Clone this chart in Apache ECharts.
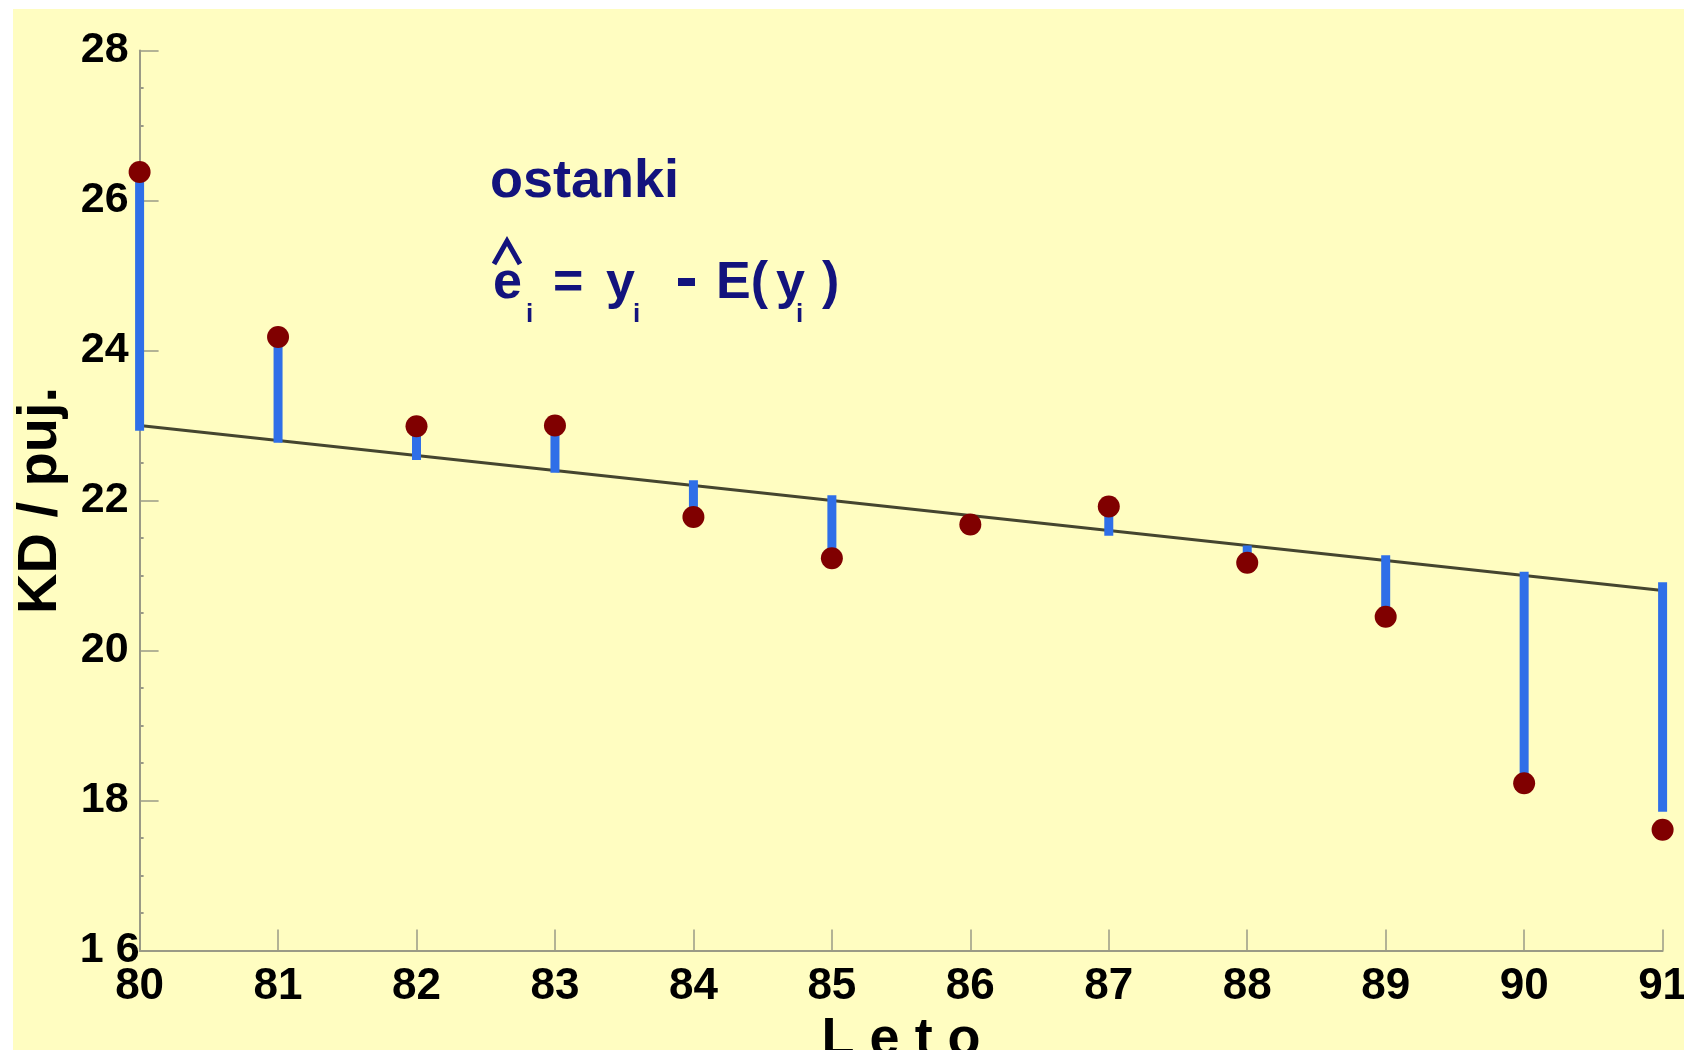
<!DOCTYPE html>
<html>

<head>
    <meta charset="utf-8">
    <title>Ostanki</title>
    <script src="https://cdn.jsdelivr.net/npm/echarts@6/dist/echarts.min.js"></script>
    <style>
        body { margin: 0; background: #ffffff; overflow: hidden; }
        #chart { position: absolute; left: 13px; top: 9px; width: 1671px; height: 1041px; background: #fffdc1; }
    </style>
</head>

<body>
    <div id="chart"></div>

    <script type="text/javascript">
        // years (Leto) and values
        var years = [80, 81, 82, 83, 84, 85, 86, 87, 88, 89, 90, 91];
        var observed = [26.38, 24.18, 22.99, 23.0, 21.78, 21.23, 21.68, 21.92, 21.17, 20.45, 18.23, 17.61];
        var fitted = [23.0, 22.8, 22.6, 22.4, 22.2, 22.0, 21.8, 21.6, 21.4, 21.2, 21.0, 20.8];
        // blue residual stems, start and end as drawn
        var stemFrom = [22.93, 22.77, 22.54, 22.37, 22.27, 22.07, 21.80, 21.53, 21.40, 21.27, 21.05, 20.91];
        var stemTo = [26.3, 24.1, 22.9, 22.87, 21.87, 21.25, 21.70, 21.86, 21.22, 20.54, 18.34, 17.85];
        var yTickLabels = { 16: '1 6', 18: '18', 20: '20', 22: '22', 24: '24', 26: '26', 28: '28' };

        var FONT = '"Liberation Sans", Arial, sans-serif';
        var NAVY = '#13137d';
        var AXIS = '#9a9a86';

        var lineData = [], stemData = [], pointData = [];
        for (var i = 0; i < years.length; i++) {
            lineData.push([years[i], fitted[i]]);
            stemData.push([years[i], stemFrom[i], stemTo[i]]);
            pointData.push([years[i], observed[i]]);
        }

        function renderStem(params, api) {
            var p1 = api.coord([api.value(0), api.value(1)]);
            var p2 = api.coord([api.value(0), api.value(2)]);
            return {
                type: 'line',
                shape: { x1: p1[0], y1: p1[1], x2: p2[0], y2: p2[1] },
                style: { stroke: '#2f6fe8', lineWidth: 9, lineCap: 'butt' }
            };
        }

        function navyText(txt, x, y, size) {
            return {
                type: 'text', x: x, y: y,
                style: { text: txt, font: 'bold ' + size + 'px ' + FONT, fill: NAVY, verticalAlign: 'middle' }
            };
        }

        var myChart = echarts.init(document.getElementById('chart'), null, { renderer: 'canvas' });

        var option = {
            animation: false,
            grid: { left: 126.6, right: 21.4, top: 41.5, bottom: 99.5, outerBoundsMode: 'none', containLabel: false },
            xAxis: {
                type: 'value', min: 80, max: 91, interval: 1,
                name: 'L e t o', nameLocation: 'middle', nameGap: 52,
                nameTextStyle: { fontFamily: FONT, fontWeight: 'bold', fontSize: 54, color: '#000' },
                axisLine: { lineStyle: { color: AXIS, width: 2 } },
                axisTick: { inside: true, length: 21, lineStyle: { color: AXIS, width: 1.5 } },
                splitLine: { show: false },
                axisLabel: { margin: 14, fontFamily: FONT, fontWeight: 'bold', fontSize: 44, color: '#000' }
            },
            yAxis: {
                type: 'value', min: 16, max: 28, interval: 2,
                name: 'KD / puj.', nameLocation: 'middle', nameGap: 52, nameRotate: 90,
                nameTextStyle: { fontFamily: FONT, fontWeight: 'bold', fontSize: 56, color: '#000' },
                axisLine: { show: true, lineStyle: { color: AXIS, width: 2 } },
                axisTick: { show: true, inside: true, length: 19, lineStyle: { color: AXIS, width: 1.5 } },
                minorTick: { show: true, splitNumber: 4, length: 4, lineStyle: { color: AXIS, width: 2 } },
                splitLine: { show: false },
                axisLabel: {
                    margin: 0,
                    formatter: function (v) {
                        var t = yTickLabels[v];
                        return v === 16 ? '{w|' + t + '}' : '{n|' + t + '}';
                    },
                    rich: {
                        n: { fontFamily: FONT, fontWeight: 'bold', fontSize: 43, color: '#000', padding: [0, 11, 0, 0] },
                        w: { fontFamily: FONT, fontWeight: 'bold', fontSize: 43, color: '#000', padding: [0, 0, 0, 0] }
                    }
                }
            },
            series: [
                {
                    type: 'line', data: lineData, symbol: 'none', z: 2,
                    lineStyle: { color: '#45452f', width: 3 }
                },
                {
                    type: 'custom', data: stemData, renderItem: renderStem, z: 3
                },
                {
                    type: 'scatter', data: pointData, symbolSize: 22, z: 4,
                    itemStyle: { color: '#800000', opacity: 1 }
                }
            ],
            graphic: [
                navyText('ostanki', 477, 173, 54),
                // hat over e
                {
                    type: 'polyline',
                    shape: { points: [[481, 255], [494, 232], [507, 255]] },
                    style: { stroke: NAVY, lineWidth: 5, fill: null }
                },
                navyText('e', 480, 275, 52),
                navyText('i', 513, 306, 26),
                navyText('=', 540, 275, 52),
                navyText('y', 593, 275, 52),
                navyText('i', 620, 306, 26),
                // minus sign
                { type: 'rect', shape: { x: 665, y: 269, width: 17, height: 8 }, style: { fill: NAVY } },
                navyText('E(', 703, 275, 52),
                navyText('y', 763, 275, 52),
                navyText('i', 783, 306, 26),
                navyText(')', 809, 275, 52)
            ]
        };

        myChart.setOption(option);
    </script>
</body>

</html>
